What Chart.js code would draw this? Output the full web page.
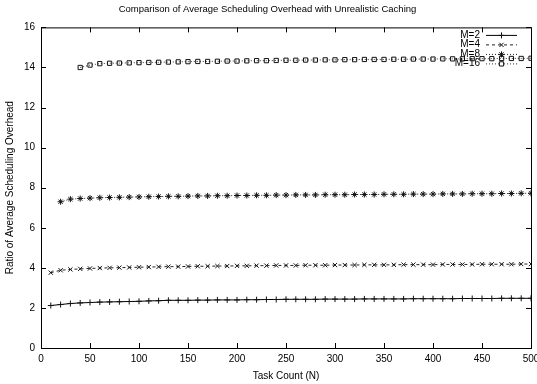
<!DOCTYPE html>
<html>
<head>
<meta charset="utf-8">
<script src="https://cdn.jsdelivr.net/npm/chart.js@4/dist/chart.umd.min.js"></script>
<style>
  html, body { margin: 0; padding: 0; background: #fff; }
  #wrap { width: 537px; height: 384px; }
</style>
</head>
<body>
<div id="wrap"><canvas id="overhead"></canvas></div>
<script>
// task counts (N) sampled every 10
const taskCounts = [10, 20, 30, 40, 50, 60, 70, 80, 90, 100,
    110, 120, 130, 140, 150, 160, 170, 180, 190, 200,
    210, 220, 230, 240, 250, 260, 270, 280, 290, 300,
    310, 320, 330, 340, 350, 360, 370, 380, 390, 400,
    410, 420, 430, 440, 450, 460, 470, 480, 490, 500];

const seriesLabels = ['M=2', 'M=4', 'M=8', 'M=16'];

// M=2 and M=4 start at N=10, M=8 at N=20, M=16 at N=40
const m2 = [2.12, 2.17, 2.22, 2.25, 2.27, 2.29, 2.30, 2.31, 2.32, 2.33,
    2.35, 2.36, 2.38, 2.38, 2.38, 2.39, 2.39, 2.40, 2.40, 2.40,
    2.41, 2.41, 2.42, 2.42, 2.43, 2.43, 2.43, 2.43, 2.44, 2.44,
    2.44, 2.44, 2.45, 2.45, 2.45, 2.45, 2.45, 2.46, 2.46, 2.46,
    2.46, 2.46, 2.47, 2.47, 2.47, 2.47, 2.48, 2.48, 2.48, 2.48];
const m4 = [3.76, 3.88, 3.92, 3.95, 3.97, 3.99, 4.00, 4.01, 4.02, 4.03,
    4.04, 4.05, 4.06, 4.06, 4.07, 4.08, 4.08, 4.09, 4.09, 4.10,
    4.10, 4.11, 4.11, 4.12, 4.12, 4.12, 4.13, 4.13, 4.13, 4.14,
    4.14, 4.14, 4.15, 4.15, 4.15, 4.15, 4.16, 4.16, 4.16, 4.16,
    4.17, 4.17, 4.17, 4.17, 4.18, 4.18, 4.18, 4.18, 4.19, 4.19];
const m8 = [7.30, 7.43, 7.46, 7.48, 7.50, 7.51, 7.52, 7.53, 7.54, 7.55,
    7.56, 7.57, 7.57, 7.58, 7.59, 7.59, 7.60, 7.60, 7.61, 7.61,
    7.62, 7.62, 7.63, 7.63, 7.64, 7.64, 7.64, 7.65, 7.65, 7.65,
    7.66, 7.66, 7.66, 7.67, 7.67, 7.67, 7.68, 7.68, 7.68, 7.69,
    7.69, 7.69, 7.70, 7.70, 7.70, 7.71, 7.71, 7.72, 7.72];
const m16 = [14.00, 14.12, 14.19, 14.21, 14.22, 14.23, 14.24, 14.25, 14.26, 14.27,
    14.28, 14.29, 14.30, 14.30, 14.31, 14.32, 14.32, 14.33, 14.34, 14.34,
    14.35, 14.36, 14.36, 14.37, 14.37, 14.38, 14.38, 14.39, 14.39, 14.40,
    14.40, 14.40, 14.41, 14.41, 14.42, 14.42, 14.42, 14.43, 14.43, 14.43,
    14.44, 14.44, 14.44, 14.45, 14.45, 14.45, 14.46];

const xTicks = [0, 50, 100, 150, 200, 250, 300, 350, 400, 450, 500];
const yTicks = [0, 2, 4, 6, 8, 10, 12, 14, 16];

const FONT = 'Liberation Sans, Arial, sans-serif';

function pairs(values) {
    const offset = taskCounts.length - values.length;
    return values.map((v, i) => ({ x: taskCounts[i + offset], y: v }));
}

const styles = [
    { pointStyle: 'cross',    dash: [],     color: '#000', hollow: false },
    { pointStyle: 'crossRot', dash: [3, 3], color: '#222', hollow: false },
    { pointStyle: 'star',     dash: [1, 2], color: '#222', hollow: false },
    { pointStyle: 'rect',     dash: [1, 2], color: '#333', hollow: true }
];

const datasets = [m2, m4, m8, m16].map((vals, i) => ({
    label: seriesLabels[i],
    data: pairs(vals),
    borderColor: styles[i].color,
    backgroundColor: styles[i].hollow ? '#fff' : styles[i].color,
    borderWidth: 1,
    borderDash: styles[i].dash,
    pointStyle: styles[i].pointStyle,
    pointRadius: 3,
    pointBorderColor: '#111',
    pointBackgroundColor: styles[i].hollow ? 'rgba(255,255,255,0)' : '#111',
    pointBorderWidth: 1,
    tension: 0
}));

// gnuplot-like frame: border with inward ticks on all four sides, plus the key
const framePlugin = {
    id: 'frame',
    afterDatasetsDraw(chart) {
        const { ctx, chartArea: a, scales } = chart;
        const len = 5;
        ctx.save();
        ctx.strokeStyle = '#000';
        ctx.lineWidth = 1;
        ctx.setLineDash([]);
        ctx.strokeRect(a.left + 0.5, a.top + 0.5, a.right - a.left, a.bottom - a.top);
        ctx.beginPath();
        xTicks.forEach(v => {
            const px = Math.round(scales.x.getPixelForValue(v)) + 0.5;
            ctx.moveTo(px, a.bottom); ctx.lineTo(px, a.bottom - len);
            ctx.moveTo(px, a.top); ctx.lineTo(px, a.top + len);
        });
        yTicks.forEach(v => {
            const py = Math.round(scales.y.getPixelForValue(v)) + 0.5;
            ctx.moveTo(a.left, py); ctx.lineTo(a.left + len, py);
            ctx.moveTo(a.right, py); ctx.lineTo(a.right - len, py);
        });
        ctx.stroke();

        // key in the top right corner
        ctx.font = '10px ' + FONT;
        ctx.textAlign = 'right';
        ctx.textBaseline = 'middle';
        chart.data.datasets.forEach((ds, i) => {
            const y = a.top + 7.5 + i * 9.5;
            const textX = a.right - 51;
            const x0 = a.right - 45, x1 = a.right - 14;
            ctx.fillStyle = '#000';
            ctx.fillText(ds.label, textX, y);
            ctx.strokeStyle = ds.borderColor;
            ctx.setLineDash(ds.borderDash);
            ctx.beginPath();
            ctx.moveTo(x0, y + 0.5); ctx.lineTo(x1, y + 0.5);
            ctx.stroke();
            ctx.setLineDash([]);
            ctx.strokeStyle = '#111';
            ctx.fillStyle = styles[i].hollow ? '#fff' : '#111';
            Chart.helpers.drawPoint(ctx, {
                pointStyle: ds.pointStyle, radius: 3, rotation: 0, borderWidth: 1
            }, (x0 + x1) / 2, y + 0.5);
        });
        ctx.restore();
    }
};

new Chart(document.getElementById('overhead'), {
    type: 'line',
    data: { datasets },
    options: {
        responsive: true,
        maintainAspectRatio: false,
        animation: false,
        layout: { padding: { left: 4, right: 6, top: 0, bottom: 2 } },
        plugins: {
            legend: { display: false },
            tooltip: { enabled: false },
            title: {
                display: true,
                text: 'Comparison of Average Scheduling Overhead with Unrealistic Caching',
                color: '#000',
                font: { family: FONT, size: 9.5, weight: 'normal' },
                padding: { top: 4, bottom: 12 }
            }
        },
        scales: {
            x: {
                type: 'linear',
                min: 0,
                max: 500,
                afterBuildTicks: s => { s.ticks = xTicks.map(v => ({ value: v })); },
                afterFit: s => { s.paddingRight = 0; s.paddingLeft = 0; s.height = 34; },
                grid: { display: false, drawTicks: false },
                border: { display: false },
                ticks: {
                    color: '#000',
                    padding: 5,
                    maxRotation: 0,
                    font: { family: FONT, size: 10 }
                },
                title: {
                    display: true,
                    text: 'Task Count (N)',
                    color: '#000',
                    font: { family: FONT, size: 10 },
                    padding: { top: 2, bottom: 0 }
                }
            },
            y: {
                min: 0,
                max: 16,
                afterBuildTicks: s => { s.ticks = yTicks.map(v => ({ value: v })); },
                afterFit: s => { s.paddingTop = 0; s.paddingBottom = 0; s.width = 37; },
                grid: { display: false, drawTicks: false },
                border: { display: false },
                ticks: {
                    color: '#000',
                    padding: 6,
                    font: { family: FONT, size: 10 }
                },
                title: {
                    display: true,
                    text: 'Ratio of Average Scheduling Overhead',
                    color: '#000',
                    font: { family: FONT, size: 10 },
                    padding: { top: 0, bottom: 4 }
                }
            }
        }
    },
    plugins: [framePlugin]
});
</script>
</body>
</html>
